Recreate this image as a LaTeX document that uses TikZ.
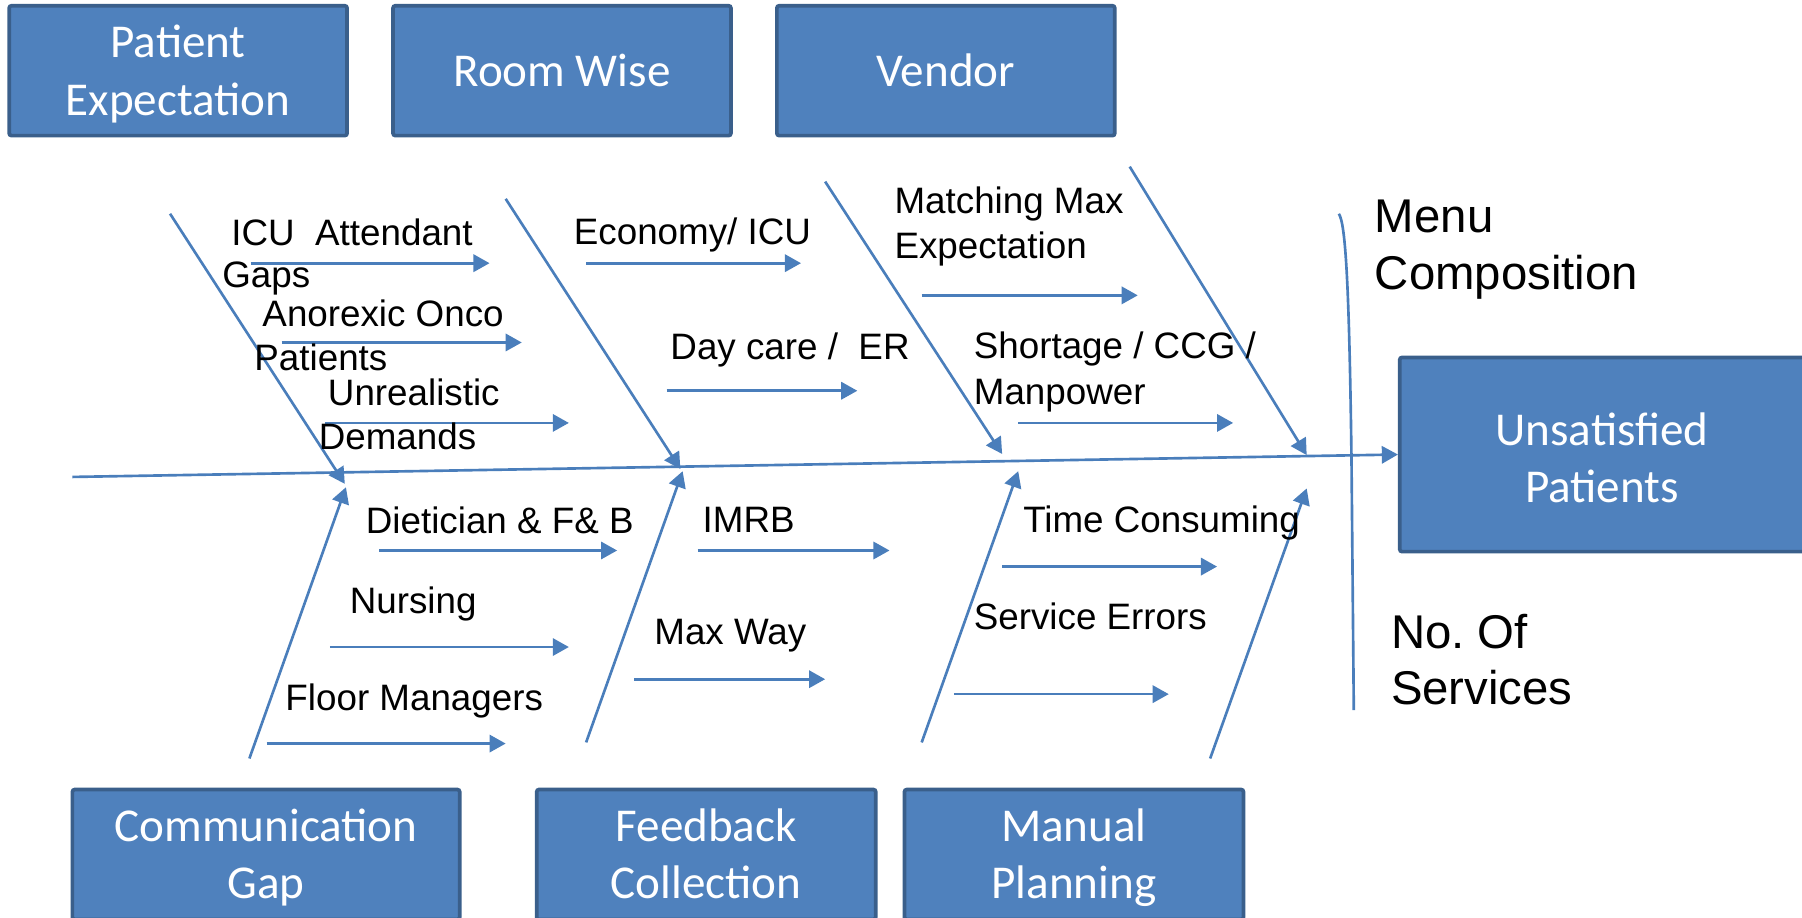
\documentclass[tikz,border=0pt]{standalone}
\usepackage{fontspec}
\setmainfont{Liberation Sans}
\newfontfamily\boxfont{Carlito}
\usetikzlibrary{arrows.meta}
\definecolor{boxfill}{HTML}{4F81BD}
\definecolor{boxedge}{HTML}{3A5F8B}
\definecolor{bonecol}{HTML}{4A7EBB}
% taller first line so two-line box texts sit a little lower
\newcommand\boxstrut{\rule{0pt}{17bp}}
% descender-sized depth for a last line without descenders
\newcommand\boxdepth{\rule[-3.5bp]{0pt}{0pt}}

\tikzset{
  causebox/.style={draw=boxedge, fill=boxfill, line width=1.6bp, rounded corners=1bp,
    text=white, font=\boxfont\fontsize{20.5bp}{25bp}\selectfont, align=center, inner sep=0pt},
  bone/.style={draw=bonecol, line width=1.15bp, -{Triangle[length=7bp,width=7.5bp]}},
  plainbone/.style={draw=bonecol, line width=1.15bp},
  lbl/.style={font=\fontsize{16bp}{19.5bp}\selectfont, anchor=base west, inner sep=0pt},
  biglbl/.style={font=\fontsize{20.6bp}{25bp}\selectfont, anchor=base west, inner sep=0pt},
}

\begin{document}
\begin{tikzpicture}[x=0.5bp, y=-0.5bp]
\useasboundingbox (0,0) rectangle (1568,798);

% category boxes
\node[causebox, minimum width=147bp, minimum height=56.5bp] (pe) at (155,61.5) {\boxstrut Patient\\Expectation};
\node[causebox, minimum width=147bp, minimum height=56.5bp] (rw) at (489,61.5) {Room Wise};
\node[causebox, minimum width=147bp, minimum height=56.5bp] (vd) at (823,61.5) {Vendor};
\node[causebox, minimum width=168.5bp, minimum height=56.5bp] (cg) at (231.5,743.5) {\boxstrut Communication\\Gap};
\node[causebox, minimum width=147.5bp, minimum height=56.5bp] (fc) at (614.5,743.5) {\boxstrut Feedback\\Collection\boxdepth};
\node[causebox, minimum width=147.5bp, minimum height=56.5bp] (mp) at (934.5,743.5) {\boxstrut Manual\\Planning};
% effect box
\node[causebox, minimum width=176bp, minimum height=84.5bp] (up) at (1394,395.5) {\boxstrut Unsatisfied\\Patients};

% spine
\coordinate (tail) at (63,415);
\draw[bone] (tail) -- (up.west);

% separator before the effect
\coordinate (sepTop) at (1165,186);
\coordinate (sepBot) at (1178,618);
\draw[plainbone] (sepTop) .. controls (1171,195) and (1174,250) .. (1176,400) -- (sepBot);

% upper ribs
\coordinate (t1s) at (148,186);  \coordinate (t1e) at (300,421);
\coordinate (t2s) at (440,173);  \coordinate (t2e) at (592,408);
\coordinate (t3s) at (718,158);  \coordinate (t3e) at (872,395);
\coordinate (t4s) at (983,145);  \coordinate (t4e) at (1137,396);
\draw[bone] (t1s) -- (t1e);
\draw[bone] (t2s) -- (t2e);
\draw[bone] (t3s) -- (t3e);
\draw[bone] (t4s) -- (t4e);

% lower ribs
\coordinate (u1s) at (217,660);  \coordinate (u1e) at (301,424);
\coordinate (u2s) at (510,646);  \coordinate (u2e) at (594,410);
\coordinate (u3s) at (802,646);  \coordinate (u3e) at (886,410);
\coordinate (u4s) at (1053,660); \coordinate (u4e) at (1137,425);
\draw[bone] (u1s) -- (u1e);
\draw[bone] (u2s) -- (u2e);
\draw[bone] (u3s) -- (u3e);
\draw[bone] (u4s) -- (u4e);

% sub-cause arrows, upper half
\coordinate (a1s) at (218,229); \coordinate (a1e) at (426,229);
\coordinate (a2s) at (245,298); \coordinate (a2e) at (454,298);
\coordinate (a3s) at (283,368); \coordinate (a3e) at (495,368);
\coordinate (a4s) at (510,229); \coordinate (a4e) at (697,229);
\coordinate (a5s) at (580,340); \coordinate (a5e) at (746,340);
\coordinate (a6s) at (802,257); \coordinate (a6e) at (990,257);
\coordinate (a7s) at (886,368); \coordinate (a7e) at (1073,368);
\foreach \i in {1,...,7} \draw[bone] (a\i s) -- (a\i e);

% sub-cause arrows, lower half
\coordinate (b1s) at (330,479); \coordinate (b1e) at (537,479);
\coordinate (b2s) at (287,563); \coordinate (b2e) at (495,563);
\coordinate (b3s) at (232,647); \coordinate (b3e) at (440,647);
\coordinate (b4s) at (607,479); \coordinate (b4e) at (774,479);
\coordinate (b5s) at (552,591); \coordinate (b5e) at (718,591);
\coordinate (b6s) at (872,493); \coordinate (b6e) at (1059,493);
\coordinate (b7s) at (830,604); \coordinate (b7e) at (1017,604);
\foreach \i in {1,...,7} \draw[bone] (b\i s) -- (b\i e);

% sub-cause labels
\node[lbl] (icu1) at (201,214) {ICU\ \ Attendant};
\node[lbl] (icu2) at (193,250) {Gaps};
\node[lbl] (ano1) at (228,284) {Anorexic Onco};
\node[lbl] (ano2) at (221,322) {Patients};
\node[lbl] (unr1) at (285,353) {Unrealistic};
\node[lbl] (unr2) at (277,391) {Demands};
\node[lbl] (eco)  at (499,213) {Economy/ ICU};
\node[lbl] (day)  at (583,313) {Day care /\ \ ER};
\node[lbl] (mat1) at (778,186) {Matching Max};
\node[lbl] (mat2) at (778,225) {Expectation};
\node[lbl] (sho1) at (847,312) {Shortage / CCG /};
\node[lbl] (sho2) at (847,352) {Manpower};
\node[lbl] (die)  at (318,464) {Dietician \& F\& B};
\node[lbl] (nur)  at (304,534) {Nursing};
\node[lbl] (flo)  at (248,618) {Floor Managers};
\node[lbl] (imr)  at (611,463) {IMRB};
\node[lbl] (mxw)  at (569,561) {Max Way};
\node[lbl] (tim)  at (890,463) {Time Consuming};
\node[lbl] (ser)  at (847,548) {Service Errors};

% labels beside the separator
\node[biglbl] (menu1) at (1196,202) {Menu};
\node[biglbl] (menu2) at (1196,252) {Composition};
\node[biglbl] (nos1)  at (1210,564) {No.\ Of};
\node[biglbl] (nos2)  at (1210,613) {Services};
\end{tikzpicture}
\end{document}
